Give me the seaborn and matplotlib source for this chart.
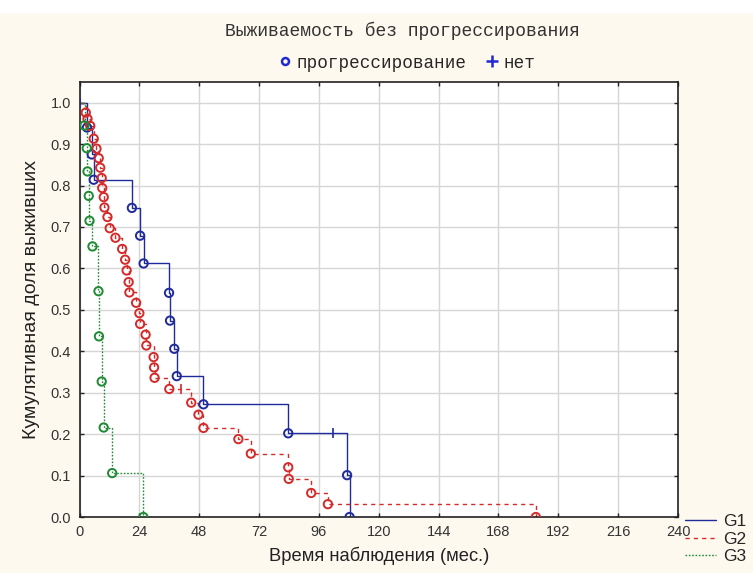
import matplotlib.pyplot as plt
import matplotlib.patches as mpatches
from matplotlib.lines import Line2D
import seaborn as sns
import pandas as pd

# Kaplan-Meier steps: event time (months) and survival after it
g1_times = [3.0, 4.9, 5.7, 21.0, 24.3, 25.7, 35.9, 36.3, 38.0, 39.0, 49.7, 83.7, 107.3, 108.3]
g1_surv = [0.940, 0.875, 0.814, 0.746, 0.679, 0.612, 0.541, 0.474, 0.406, 0.340, 0.272, 0.202, 0.101, 0.0]
g1_cens_t = [0.0, 101.6]
g1_cens_s = [1.0, 0.202]

g2_times = [2.5, 3.2, 4.3, 5.7, 6.8, 7.7, 8.3, 8.9, 9.1, 9.7, 10.0, 11.2, 12.1, 14.4,
            17.1, 18.3, 18.9, 19.7, 20.0, 22.7, 24.0, 24.3, 26.5, 26.8, 29.7, 29.9,
            30.1, 36.0, 44.8, 47.7, 49.7, 63.7, 68.7, 83.7, 83.9, 92.9, 99.6, 183.0]
g2_surv = [0.976, 0.961, 0.944, 0.913, 0.889, 0.866, 0.843, 0.818, 0.794, 0.772, 0.747,
           0.724, 0.697, 0.674, 0.647, 0.621, 0.595, 0.567, 0.542, 0.517, 0.492, 0.466,
           0.440, 0.414, 0.386, 0.361, 0.336, 0.309, 0.276, 0.247, 0.215, 0.188, 0.153,
           0.120, 0.092, 0.058, 0.031, 0.0]
g2_cens_t = [40.7]
g2_cens_s = [0.309]

g3_times = [2.0, 2.9, 3.2, 3.7, 4.0, 5.2, 7.6, 7.8, 8.9, 9.7, 13.1, 25.6]
g3_surv = [0.945, 0.890, 0.834, 0.775, 0.715, 0.653, 0.545, 0.436, 0.327, 0.216, 0.106, 0.0]

group_names = ["G1", "G2", "G3"]
group_colors = ["#1f2a9c", "#d42a2a", "#1f8a34"]
group_styles = ["-", (0, (3, 3)), (0, (1.2, 1.2))]

x_ticks = list(range(0, 241, 24))
y_ticks = [i / 10 for i in range(11)]

title_text = "Выживаемость без прогрессирования"
event_label = "прогрессирование"
censor_label = "нет"
x_label = "Время наблюдения (мес.)"
y_label = "Кумулятивная доля выживших"

BG = "#fdf9ee"

sns.set_style("white")
plt.rcParams["font.family"] = ["Liberation Sans", "DejaVu Sans"]

fig = plt.figure(figsize=(7.53, 5.73), dpi=100, facecolor=BG)
ax = fig.add_axes([0.1056, 0.0977, 0.7948, 0.7593])
ax.set_facecolor("white")

# white strip along the very top of the image
fig.patches.append(mpatches.Rectangle((0, 1 - 12 / 573), 1, 12 / 573,
                                      transform=fig.transFigure, color="white", zorder=0))

groups = [
    (g1_times, g1_surv, g1_cens_t, g1_cens_s),
    (g2_times, g2_surv, g2_cens_t, g2_cens_s),
    (g3_times, g3_surv, [], []),
]

legend_handles = []
for (times, surv, ct, cs), name, color, ls in zip(groups, group_names, group_colors, group_styles):
    df = pd.DataFrame({"t": [0.0] + times, "s": [1.0] + surv})
    sns.lineplot(data=df, x="t", y="s", ax=ax, estimator=None, sort=False,
                 drawstyle="steps-post", color=color, linestyle=ls, linewidth=1.0)
    ax.scatter(times, surv, s=36, facecolors="none", edgecolors=color, linewidths=1.4, zorder=3)
    if ct:
        ax.scatter(ct, cs, s=60, marker="|", color=color, linewidths=1.2, zorder=3)
    legend_handles.append(Line2D([0], [0], color=color, linestyle=ls, linewidth=1.0, label=name))

ax.set_xlim(0, 240)
ax.set_ylim(0, 1.05)
ax.set_xticks(x_ticks)
ax.set_yticks(y_ticks)
ax.set_yticklabels([f"{v:.1f}" for v in y_ticks])
ax.grid(True, color="#d6d6d6", linewidth=1.0)
ax.tick_params(direction="in", length=3, width=1, colors="#222222",
               labelsize=10.5, top=True, right=True, bottom=True, left=True,
               labelcolor="#333333", pad=6)
for sp in ax.spines.values():
    sp.set_color("#222222")
    sp.set_linewidth(1.2)

ax.set_xlabel(x_label, fontsize=13.2, color="#222222", labelpad=5)
ax.set_ylabel(y_label, fontsize=14, color="#222222", labelpad=8)

# title and marker legend in a monospaced face
fig.text(0.534, 1 - 31 / 573, title_text, ha="center", va="center",
         fontsize=13, family="Liberation Mono", color="#333333")
top_handles = [
    Line2D([0], [0], marker="o", linestyle="none", markersize=5, markerfacecolor="none",
           markeredgecolor="#1f2ad0", markeredgewidth=1.8, label=event_label),
    Line2D([0], [0], marker="+", linestyle="none", markersize=8,
           markeredgecolor="#1f2ad0", markeredgewidth=1.8, label=censor_label),
]
fig.legend(handles=top_handles, loc="center", bbox_to_anchor=(0.540, 1 - 63 / 573),
           ncol=2, frameon=False, handlelength=0.8, handletextpad=0.3, columnspacing=1.0,
           prop={"family": "Liberation Mono", "size": 12.7})

fig.legend(handles=legend_handles, loc="upper left", bbox_to_anchor=(0.898, 1 - 505 / 573),
           frameon=False, handlelength=1.8, handletextpad=0.4, labelspacing=0.15,
           borderpad=0, prop={"size": 12.5})

fig.savefig("out.png", dpi=100, facecolor=BG)
